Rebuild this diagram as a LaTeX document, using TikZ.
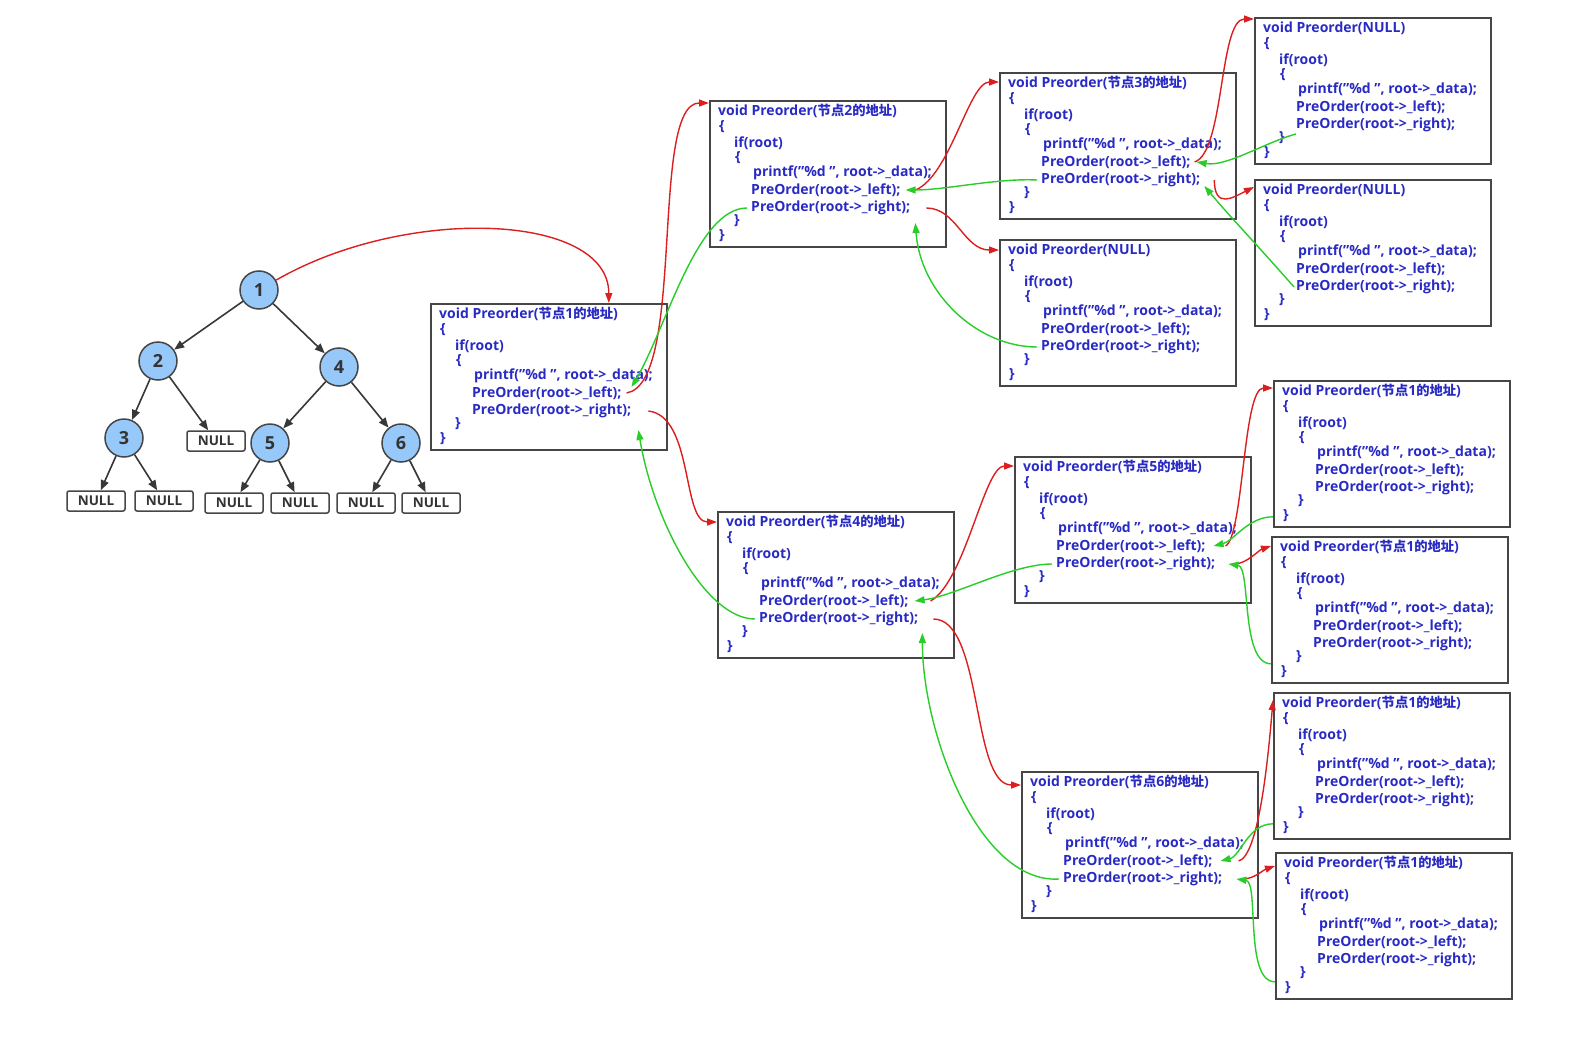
\documentclass[tikz,border=0pt]{standalone}
\usepackage{fontspec}
\setmainfont{Open Sans}
\newfontfamily\cjk{Noto Sans CJK SC}[Scale=0.95]
\usetikzlibrary{arrows.meta}

\definecolor{codeblue}{RGB}{40,42,195}
\definecolor{boxgray}{RGB}{70,70,70}
\definecolor{nodeblue}{RGB}{150,200,250}
\definecolor{callred}{RGB}{220,30,30}
\definecolor{backgreen}{RGB}{40,205,40}

\tikzset{
    codebox/.style={draw=boxgray, line width=1.8, minimum width=236, minimum height=146,
        anchor=north west, inner sep=0},
    codeline/.style={anchor=west, inner sep=0, text=codeblue,
        font=\bfseries\fontsize{14}{16}\selectfont},
    tnode/.style={circle, draw=boxgray, line width=1.5, fill=nodeblue, minimum size=38,
        inner sep=0, font=\bfseries\fontsize{18}{20}\selectfont, text=black!80},
    nullbox/.style={draw=boxgray, line width=1.5, rounded corners=2, fill=white,
        minimum width=58, minimum height=20, inner sep=0,
        font=\bfseries\fontsize{13.5}{15}\selectfont, text=black!80},
    tedge/.style={draw=boxgray!80!black, line width=1.6, -{Triangle[length=10,width=8]}},
    call/.style={draw=callred, line width=1.4, -{Triangle[length=10,width=7]}},
    back/.style={draw=backgreen, line width=1.4, -{Triangle[length=10,width=7]}}
}

% one stack frame of the recursion: name, x, y, argument
\newcommand{\preorder}[4]{%
    \node[codebox] (#1) at (#2,-#3) {};
    \node[codeline] (#1-t) at ([shift={(9,-11)}]#1.north west) {void Preorder(#4)};
    \node[codeline] (#1-o1) at ([shift={(10,-27)}]#1.north west) {\{};
    \node[codeline] (#1-if) at ([shift={(25,-43)}]#1.north west) {if(root)};
    \node[codeline] (#1-o2) at ([shift={(26,-58)}]#1.north west) {\{};
    \node[codeline] (#1-d) at ([shift={(44,-73)}]#1.north west) {printf("\%d ", root->\_data);};
    \node[codeline] (#1-l) at ([shift={(42,-90)}]#1.north west) {PreOrder(root->\_left);};
    \node[codeline] (#1-r) at ([shift={(42,-108)}]#1.north west) {PreOrder(root->\_right);};
    \node[codeline] (#1-c2) at ([shift={(25,-121)}]#1.north west) {\}};
    \node[codeline] (#1-c1) at ([shift={(10,-136)}]#1.north west) {\}};
}
\newcommand{\addr}[1]{{\cjk 节点}#1{\cjk 的地址}}

\begin{document}
\begin{tikzpicture}[x=1pt, y=1pt]
    \useasboundingbox (0,0) rectangle (1576,-1038);

    % the tree
    \node[tnode] (n1) at (259,-290) {1};
    \node[tnode] (n2) at (158,-361) {2};
    \node[tnode] (n4) at (339,-367) {4};
    \node[tnode] (n3) at (124,-438) {3};
    \node[tnode] (n5) at (270,-443) {5};
    \node[tnode] (n6) at (401,-443) {6};
    \node[nullbox] (z2) at (216,-441) {NULL};
    \node[nullbox] (z3a) at (96,-501) {NULL};
    \node[nullbox] (z3b) at (164,-501) {NULL};
    \node[nullbox] (z5a) at (234,-503) {NULL};
    \node[nullbox] (z5b) at (300,-503) {NULL};
    \node[nullbox] (z6a) at (366,-503) {NULL};
    \node[nullbox] (z6b) at (431,-503) {NULL};
    \foreach \a/\b in {n1/n2, n1/n4, n2/n3, n2/z2, n4/n5, n4/n6,
        n3/z3a, n3/z3b, n5/z5a, n5/z5b, n6/z6a, n6/z6b} {
        \draw[tedge] (\a) -- (\b);
    }

    % the frames
    \preorder{f1}{430}{303}{\addr{1}}
    \preorder{f2}{709}{100}{\addr{2}}
    \preorder{f3}{999}{72}{\addr{3}}
    \preorder{fn1}{999}{239}{NULL}
    \preorder{ft}{1254}{17}{NULL}
    \preorder{fn2}{1254}{179}{NULL}
    \preorder{f4}{717}{511}{\addr{4}}
    \preorder{f5}{1014}{456}{\addr{5}}
    \preorder{fr1}{1273}{380}{\addr{1}}
    \preorder{fr2}{1271}{536}{\addr{1}}
    \preorder{f6}{1021}{771}{\addr{6}}
    \preorder{fr3}{1273}{692}{\addr{1}}
    \preorder{fr4}{1275}{852}{\addr{1}}

    % calls (red)
    \draw[call] (n1.30) .. controls +(130,75) and +(0,90) .. ([xshift=-59]f1.north east);
    \draw[call] ([xshift=5]f1-l.east) .. controls +(60,10) and +(-60,0) .. ([yshift=-3]f2.north west);
    \draw[call] ([xshift=17]f1-r.east) .. controls +(45,-5) and +(-35,0) .. ([yshift=-11]f4.north west);
    \draw[call] ([xshift=15]f2-l.east) .. controls +(35,15) and +(-30,0) .. ([yshift=-10]f3.north west);
    \draw[call] ([xshift=16]f2-r.east) .. controls +(30,0) and +(-35,0) .. ([yshift=-11]fn1.north west);
    \draw[call] ([xshift=4]f3-l.east) .. controls +(30,10) and +(-35,0) .. ([yshift=-2]ft.north west);
    \draw[call] ([xshift=14]f3-r.east) .. controls +(0,-30) and +(-20,-10) .. ([yshift=-8]fn2.north west);
    \draw[call] ([xshift=22]f4-l.east) .. controls +(35,20) and +(-30,0) .. ([yshift=-10]f5.north west);
    \draw[call] ([xshift=15]f4-r.east) .. controls +(50,0) and +(-50,0) .. ([yshift=-14]f6.north west);
    \draw[call] ([xshift=20]f5-l.east) .. controls +(18,10) and +(-30,0) .. ([yshift=-8]fr1.north west);
    \draw[call] ([xshift=19]f5-r.east) .. controls +(12,0) and +(-12,-4) .. ([yshift=-10]fr2.north west);
    \draw[call] ([xshift=26]f6-l.east) .. controls +(20,5) and +(-5,-60) .. ([yshift=-8]fr3.north west);
    \draw[call] ([xshift=20]f6-r.east) .. controls +(12,0) and +(-12,-4) .. ([yshift=-14]fr4.north west);

    % returns (green)
    \draw[back] ([xshift=-4]f2-r.west) .. controls +(-50,0) and +(35,60) .. ([shift={(10,6)}]f1-l.east);
    \draw[back] ([xshift=-4]f4-r.west) .. controls +(-50,0) and +(15,-90) .. ([shift={(7,-19)}]f1-r.east);
    \draw[back] ([xshift=-4]f3-r.west) .. controls +(-40,2) and +(40,0) .. ([xshift=5]f2-l.east);
    \draw[back] ([xshift=-4]fn1-r.west) .. controls +(-60,0) and +(5,-70) .. ([shift={(5,-15)}]f2-r.east);
    \draw[back] ([shift={(0,-9)}]ft-r.west) .. controls +(-30,-8) and +(30,-5) .. ([xshift=6]f3-l.east);
    \draw[back] ([xshift=-2]fn2-r.west) .. controls +(-35,40) and +(25,-30) .. ([shift={(4,-6)}]f3-r.east);
    \draw[back] ([xshift=-4]f5-r.west) .. controls +(-40,0) and +(40,5) .. ([xshift=6]f4-l.east);
    \draw[back] ([xshift=-4]f6-r.west) .. controls +(-80,-5) and +(0,-100) .. ([shift={(4,-14)}]f4-r.east);
    \draw[back] ([yshift=11]fr1.south west) .. controls +(-25,0) and +(20,5) .. ([xshift=8]f5-l.east);
    \draw[back] ([yshift=20]fr2.south west) .. controls +(-31,0) and +(23,-3) .. ([xshift=13]f5-r.east);
    \draw[back] ([yshift=16]fr3.south west) .. controls +(-25,0) and +(20,5) .. ([xshift=8]f6-l.east);
    \draw[back] ([yshift=18]fr4.south west) .. controls +(-31,0) and +(23,-3) .. ([xshift=14]f6-r.east);
\end{tikzpicture}
\end{document}
